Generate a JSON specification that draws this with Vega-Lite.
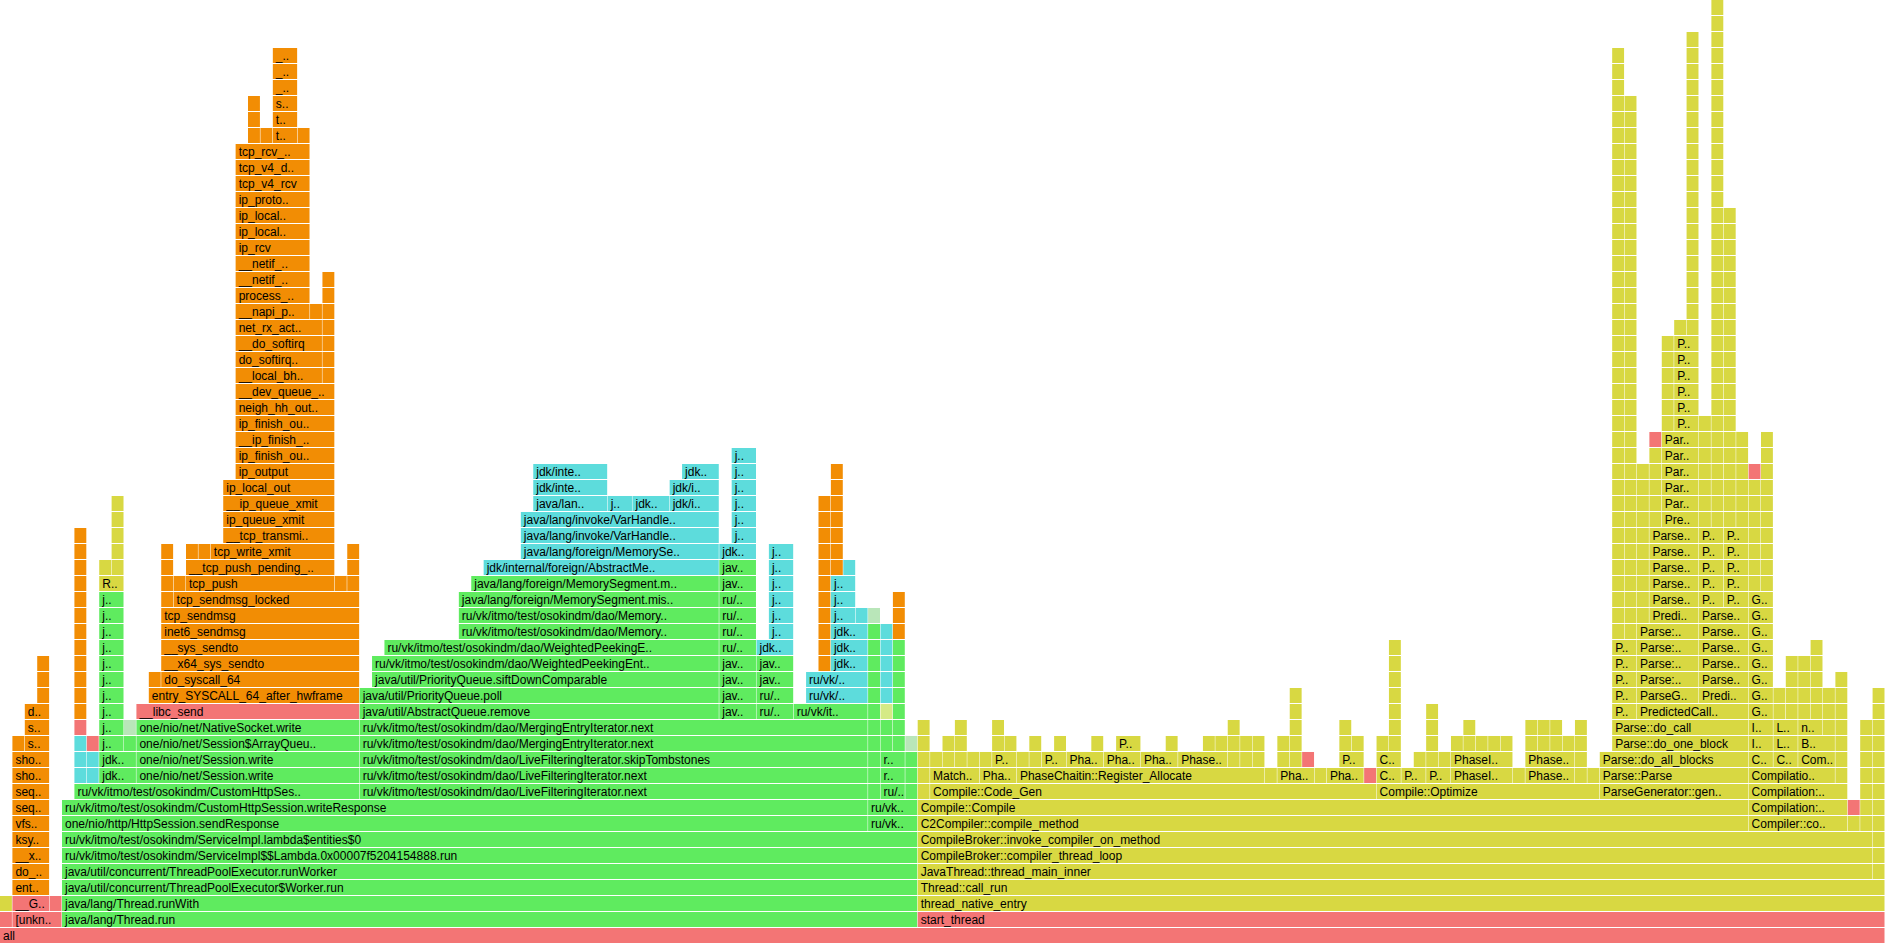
{
"$schema": "https://vega.github.io/schema/vega-lite/v6.json",
"width": 1885, "height": 943, "padding": 0,
"autosize": {"type": "none"},
"background": "white",
"config": {"view": {"stroke": null}},
"data": {"values": [
{"name":"all","start":0,"end":152,"depth":0,"type":"native"},
{"name":"","start":0,"end":1,"depth":1,"type":"native"},
{"name":"[unkn..","start":1,"end":5,"depth":1,"type":"native"},
{"name":"java/lang/Thread.run","start":5,"end":74,"depth":1,"type":"java"},
{"name":"start_thread","start":74,"end":152,"depth":1,"type":"native"},
{"name":"","start":0,"end":1,"depth":2,"type":"cpp"},
{"name":"__G..","start":1,"end":4,"depth":2,"type":"native"},
{"name":"","start":4,"end":5,"depth":2,"type":"native"},
{"name":"java/lang/Thread.runWith","start":5,"end":74,"depth":2,"type":"java"},
{"name":"thread_native_entry","start":74,"end":152,"depth":2,"type":"cpp"},
{"name":"ent..","start":1,"end":4,"depth":3,"type":"kernel"},
{"name":"java/util/concurrent/ThreadPoolExecutor$Worker.run","start":5,"end":74,"depth":3,"type":"java"},
{"name":"Thread::call_run","start":74,"end":152,"depth":3,"type":"cpp"},
{"name":"do_..","start":1,"end":4,"depth":4,"type":"kernel"},
{"name":"java/util/concurrent/ThreadPoolExecutor.runWorker","start":5,"end":74,"depth":4,"type":"java"},
{"name":"JavaThread::thread_main_inner","start":74,"end":151,"depth":4,"type":"cpp"},
{"name":"","start":151,"end":152,"depth":4,"type":"cpp"},
{"name":"__x..","start":1,"end":4,"depth":5,"type":"kernel"},
{"name":"ru/vk/itmo/test/osokindm/ServiceImpl$$Lambda.0x00007f5204154888.run","start":5,"end":74,"depth":5,"type":"java"},
{"name":"CompileBroker::compiler_thread_loop","start":74,"end":151,"depth":5,"type":"cpp"},
{"name":"","start":151,"end":152,"depth":5,"type":"cpp"},
{"name":"ksy..","start":1,"end":4,"depth":6,"type":"kernel"},
{"name":"ru/vk/itmo/test/osokindm/ServiceImpl.lambda$entities$0","start":5,"end":74,"depth":6,"type":"java"},
{"name":"CompileBroker::invoke_compiler_on_method","start":74,"end":151,"depth":6,"type":"cpp"},
{"name":"","start":151,"end":152,"depth":6,"type":"cpp"},
{"name":"vfs..","start":1,"end":4,"depth":7,"type":"kernel"},
{"name":"one/nio/http/HttpSession.sendResponse","start":5,"end":70,"depth":7,"type":"java"},
{"name":"ru/vk..","start":70,"end":74,"depth":7,"type":"java"},
{"name":"C2Compiler::compile_method","start":74,"end":141,"depth":7,"type":"cpp"},
{"name":"Compiler::co..","start":141,"end":149,"depth":7,"type":"cpp"},
{"name":"","start":149,"end":150,"depth":7,"type":"cpp"},
{"name":"","start":150,"end":151,"depth":7,"type":"cpp"},
{"name":"","start":151,"end":152,"depth":7,"type":"cpp"},
{"name":"seq..","start":1,"end":4,"depth":8,"type":"kernel"},
{"name":"ru/vk/itmo/test/osokindm/CustomHttpSession.writeResponse","start":5,"end":70,"depth":8,"type":"java"},
{"name":"ru/vk..","start":70,"end":74,"depth":8,"type":"java"},
{"name":"Compile::Compile","start":74,"end":141,"depth":8,"type":"cpp"},
{"name":"Compilation:..","start":141,"end":149,"depth":8,"type":"cpp"},
{"name":"","start":149,"end":150,"depth":8,"type":"native"},
{"name":"","start":150,"end":151,"depth":8,"type":"cpp"},
{"name":"","start":151,"end":152,"depth":8,"type":"cpp"},
{"name":"seq..","start":1,"end":4,"depth":9,"type":"kernel"},
{"name":"ru/vk/itmo/test/osokindm/CustomHttpSes..","start":6,"end":29,"depth":9,"type":"java"},
{"name":"ru/vk/itmo/test/osokindm/dao/LiveFilteringIterator.next","start":29,"end":70,"depth":9,"type":"java"},
{"name":"","start":70,"end":71,"depth":9,"type":"java"},
{"name":"ru/..","start":71,"end":73,"depth":9,"type":"java"},
{"name":"","start":73,"end":74,"depth":9,"type":"java"},
{"name":"","start":74,"end":75,"depth":9,"type":"cpp"},
{"name":"Compile::Code_Gen","start":75,"end":111,"depth":9,"type":"cpp"},
{"name":"Compile::Optimize","start":111,"end":129,"depth":9,"type":"cpp"},
{"name":"ParseGenerator::gen..","start":129,"end":141,"depth":9,"type":"cpp"},
{"name":"Compilation:..","start":141,"end":149,"depth":9,"type":"cpp"},
{"name":"","start":150,"end":151,"depth":9,"type":"cpp"},
{"name":"","start":151,"end":152,"depth":9,"type":"cpp"},
{"name":"sho..","start":1,"end":4,"depth":10,"type":"kernel"},
{"name":"","start":6,"end":7,"depth":10,"type":"inlined"},
{"name":"","start":7,"end":8,"depth":10,"type":"inlined"},
{"name":"jdk..","start":8,"end":11,"depth":10,"type":"java"},
{"name":"one/nio/net/Session.write","start":11,"end":29,"depth":10,"type":"java"},
{"name":"ru/vk/itmo/test/osokindm/dao/LiveFilteringIterator.next","start":29,"end":70,"depth":10,"type":"java"},
{"name":"","start":70,"end":71,"depth":10,"type":"java"},
{"name":"r..","start":71,"end":73,"depth":10,"type":"java"},
{"name":"","start":73,"end":74,"depth":10,"type":"java"},
{"name":"","start":74,"end":75,"depth":10,"type":"cpp"},
{"name":"Match..","start":75,"end":79,"depth":10,"type":"cpp"},
{"name":"Pha..","start":79,"end":82,"depth":10,"type":"cpp"},
{"name":"PhaseChaitin::Register_Allocate","start":82,"end":102,"depth":10,"type":"cpp"},
{"name":"","start":102,"end":103,"depth":10,"type":"cpp"},
{"name":"Pha..","start":103,"end":106,"depth":10,"type":"cpp"},
{"name":"","start":106,"end":107,"depth":10,"type":"cpp"},
{"name":"Pha..","start":107,"end":110,"depth":10,"type":"cpp"},
{"name":"","start":110,"end":111,"depth":10,"type":"native"},
{"name":"C..","start":111,"end":113,"depth":10,"type":"cpp"},
{"name":"P..","start":113,"end":115,"depth":10,"type":"cpp"},
{"name":"P..","start":115,"end":117,"depth":10,"type":"cpp"},
{"name":"PhaseI..","start":117,"end":122,"depth":10,"type":"cpp"},
{"name":"","start":122,"end":123,"depth":10,"type":"cpp"},
{"name":"Phase..","start":123,"end":127,"depth":10,"type":"cpp"},
{"name":"","start":127,"end":128,"depth":10,"type":"cpp"},
{"name":"","start":128,"end":129,"depth":10,"type":"cpp"},
{"name":"Parse::Parse","start":129,"end":141,"depth":10,"type":"cpp"},
{"name":"Compilatio..","start":141,"end":148,"depth":10,"type":"cpp"},
{"name":"","start":148,"end":149,"depth":10,"type":"cpp"},
{"name":"","start":150,"end":151,"depth":10,"type":"cpp"},
{"name":"","start":151,"end":152,"depth":10,"type":"cpp"},
{"name":"sho..","start":1,"end":4,"depth":11,"type":"kernel"},
{"name":"","start":6,"end":7,"depth":11,"type":"inlined"},
{"name":"","start":7,"end":8,"depth":11,"type":"inlined"},
{"name":"jdk..","start":8,"end":11,"depth":11,"type":"java"},
{"name":"one/nio/net/Session.write","start":11,"end":29,"depth":11,"type":"java"},
{"name":"ru/vk/itmo/test/osokindm/dao/LiveFilteringIterator.skipTombstones","start":29,"end":70,"depth":11,"type":"java"},
{"name":"","start":70,"end":71,"depth":11,"type":"java"},
{"name":"r..","start":71,"end":73,"depth":11,"type":"java"},
{"name":"","start":73,"end":74,"depth":11,"type":"java"},
{"name":"","start":74,"end":75,"depth":11,"type":"cpp"},
{"name":"","start":75,"end":76,"depth":11,"type":"cpp"},
{"name":"","start":76,"end":77,"depth":11,"type":"cpp"},
{"name":"","start":77,"end":78,"depth":11,"type":"cpp"},
{"name":"","start":78,"end":79,"depth":11,"type":"cpp"},
{"name":"","start":79,"end":80,"depth":11,"type":"cpp"},
{"name":"P..","start":80,"end":82,"depth":11,"type":"cpp"},
{"name":"","start":82,"end":83,"depth":11,"type":"cpp"},
{"name":"","start":83,"end":84,"depth":11,"type":"cpp"},
{"name":"P..","start":84,"end":86,"depth":11,"type":"cpp"},
{"name":"Pha..","start":86,"end":89,"depth":11,"type":"cpp"},
{"name":"Pha..","start":89,"end":92,"depth":11,"type":"cpp"},
{"name":"Pha..","start":92,"end":95,"depth":11,"type":"cpp"},
{"name":"Phase..","start":95,"end":99,"depth":11,"type":"cpp"},
{"name":"","start":99,"end":100,"depth":11,"type":"cpp"},
{"name":"","start":100,"end":101,"depth":11,"type":"cpp"},
{"name":"","start":101,"end":102,"depth":11,"type":"cpp"},
{"name":"","start":103,"end":104,"depth":11,"type":"cpp"},
{"name":"","start":104,"end":105,"depth":11,"type":"cpp"},
{"name":"","start":105,"end":106,"depth":11,"type":"native"},
{"name":"P..","start":108,"end":110,"depth":11,"type":"cpp"},
{"name":"C..","start":111,"end":113,"depth":11,"type":"cpp"},
{"name":"","start":114,"end":115,"depth":11,"type":"cpp"},
{"name":"","start":115,"end":116,"depth":11,"type":"cpp"},
{"name":"","start":116,"end":117,"depth":11,"type":"cpp"},
{"name":"PhaseI..","start":117,"end":122,"depth":11,"type":"cpp"},
{"name":"Phase..","start":123,"end":127,"depth":11,"type":"cpp"},
{"name":"","start":127,"end":128,"depth":11,"type":"cpp"},
{"name":"Parse::do_all_blocks","start":129,"end":141,"depth":11,"type":"cpp"},
{"name":"C..","start":141,"end":143,"depth":11,"type":"cpp"},
{"name":"C..","start":143,"end":145,"depth":11,"type":"cpp"},
{"name":"Com..","start":145,"end":148,"depth":11,"type":"cpp"},
{"name":"","start":148,"end":149,"depth":11,"type":"cpp"},
{"name":"","start":150,"end":151,"depth":11,"type":"cpp"},
{"name":"","start":151,"end":152,"depth":11,"type":"cpp"},
{"name":"","start":1,"end":2,"depth":12,"type":"kernel"},
{"name":"s..","start":2,"end":4,"depth":12,"type":"kernel"},
{"name":"","start":6,"end":7,"depth":12,"type":"inlined"},
{"name":"","start":7,"end":8,"depth":12,"type":"native"},
{"name":"j..","start":8,"end":10,"depth":12,"type":"java"},
{"name":"","start":10,"end":11,"depth":12,"type":"java"},
{"name":"one/nio/net/Session$ArrayQueu..","start":11,"end":29,"depth":12,"type":"java"},
{"name":"ru/vk/itmo/test/osokindm/dao/MergingEntryIterator.next","start":29,"end":70,"depth":12,"type":"java"},
{"name":"","start":70,"end":71,"depth":12,"type":"java"},
{"name":"","start":71,"end":72,"depth":12,"type":"java"},
{"name":"","start":72,"end":73,"depth":12,"type":"java"},
{"name":"","start":73,"end":74,"depth":12,"type":"interpreted"},
{"name":"","start":74,"end":75,"depth":12,"type":"cpp"},
{"name":"","start":76,"end":77,"depth":12,"type":"cpp"},
{"name":"","start":77,"end":78,"depth":12,"type":"cpp"},
{"name":"","start":80,"end":81,"depth":12,"type":"cpp"},
{"name":"","start":81,"end":82,"depth":12,"type":"cpp"},
{"name":"","start":83,"end":84,"depth":12,"type":"cpp"},
{"name":"","start":85,"end":86,"depth":12,"type":"cpp"},
{"name":"","start":88,"end":89,"depth":12,"type":"cpp"},
{"name":"P..","start":90,"end":92,"depth":12,"type":"cpp"},
{"name":"","start":94,"end":95,"depth":12,"type":"cpp"},
{"name":"","start":97,"end":98,"depth":12,"type":"cpp"},
{"name":"","start":98,"end":99,"depth":12,"type":"cpp"},
{"name":"","start":99,"end":100,"depth":12,"type":"cpp"},
{"name":"","start":100,"end":101,"depth":12,"type":"cpp"},
{"name":"","start":101,"end":102,"depth":12,"type":"cpp"},
{"name":"","start":103,"end":104,"depth":12,"type":"cpp"},
{"name":"","start":104,"end":105,"depth":12,"type":"cpp"},
{"name":"","start":108,"end":109,"depth":12,"type":"cpp"},
{"name":"","start":109,"end":110,"depth":12,"type":"cpp"},
{"name":"","start":111,"end":112,"depth":12,"type":"cpp"},
{"name":"","start":112,"end":113,"depth":12,"type":"cpp"},
{"name":"","start":115,"end":116,"depth":12,"type":"cpp"},
{"name":"","start":117,"end":118,"depth":12,"type":"cpp"},
{"name":"","start":118,"end":119,"depth":12,"type":"cpp"},
{"name":"","start":119,"end":120,"depth":12,"type":"cpp"},
{"name":"","start":120,"end":121,"depth":12,"type":"cpp"},
{"name":"","start":121,"end":122,"depth":12,"type":"cpp"},
{"name":"","start":123,"end":124,"depth":12,"type":"cpp"},
{"name":"","start":124,"end":125,"depth":12,"type":"cpp"},
{"name":"","start":125,"end":126,"depth":12,"type":"cpp"},
{"name":"","start":126,"end":127,"depth":12,"type":"cpp"},
{"name":"","start":127,"end":128,"depth":12,"type":"cpp"},
{"name":"Parse::do_one_block","start":130,"end":141,"depth":12,"type":"cpp"},
{"name":"I..","start":141,"end":143,"depth":12,"type":"cpp"},
{"name":"L..","start":143,"end":145,"depth":12,"type":"cpp"},
{"name":"B..","start":145,"end":148,"depth":12,"type":"cpp"},
{"name":"","start":148,"end":149,"depth":12,"type":"cpp"},
{"name":"","start":150,"end":151,"depth":12,"type":"cpp"},
{"name":"","start":151,"end":152,"depth":12,"type":"cpp"},
{"name":"s..","start":2,"end":4,"depth":13,"type":"kernel"},
{"name":"","start":6,"end":7,"depth":13,"type":"native"},
{"name":"j..","start":8,"end":10,"depth":13,"type":"java"},
{"name":"","start":10,"end":11,"depth":13,"type":"interpreted"},
{"name":"one/nio/net/NativeSocket.write","start":11,"end":29,"depth":13,"type":"java"},
{"name":"ru/vk/itmo/test/osokindm/dao/MergingEntryIterator.next","start":29,"end":70,"depth":13,"type":"java"},
{"name":"","start":70,"end":71,"depth":13,"type":"java"},
{"name":"","start":71,"end":72,"depth":13,"type":"java"},
{"name":"","start":72,"end":73,"depth":13,"type":"java"},
{"name":"","start":74,"end":75,"depth":13,"type":"cpp"},
{"name":"","start":77,"end":78,"depth":13,"type":"cpp"},
{"name":"","start":80,"end":81,"depth":13,"type":"cpp"},
{"name":"","start":99,"end":100,"depth":13,"type":"cpp"},
{"name":"","start":104,"end":105,"depth":13,"type":"cpp"},
{"name":"","start":108,"end":109,"depth":13,"type":"cpp"},
{"name":"","start":112,"end":113,"depth":13,"type":"cpp"},
{"name":"","start":115,"end":116,"depth":13,"type":"cpp"},
{"name":"","start":118,"end":119,"depth":13,"type":"cpp"},
{"name":"","start":123,"end":124,"depth":13,"type":"cpp"},
{"name":"","start":124,"end":125,"depth":13,"type":"cpp"},
{"name":"","start":125,"end":126,"depth":13,"type":"cpp"},
{"name":"","start":127,"end":128,"depth":13,"type":"cpp"},
{"name":"Parse::do_call","start":130,"end":141,"depth":13,"type":"cpp"},
{"name":"I..","start":141,"end":143,"depth":13,"type":"cpp"},
{"name":"L..","start":143,"end":145,"depth":13,"type":"cpp"},
{"name":"n..","start":145,"end":147,"depth":13,"type":"cpp"},
{"name":"","start":147,"end":148,"depth":13,"type":"cpp"},
{"name":"","start":148,"end":149,"depth":13,"type":"cpp"},
{"name":"","start":150,"end":151,"depth":13,"type":"cpp"},
{"name":"","start":151,"end":152,"depth":13,"type":"cpp"},
{"name":"d..","start":2,"end":4,"depth":14,"type":"kernel"},
{"name":"","start":6,"end":7,"depth":14,"type":"kernel"},
{"name":"j..","start":8,"end":10,"depth":14,"type":"java"},
{"name":"__libc_send","start":11,"end":29,"depth":14,"type":"native"},
{"name":"java/util/AbstractQueue.remove","start":29,"end":58,"depth":14,"type":"java"},
{"name":"jav..","start":58,"end":61,"depth":14,"type":"java"},
{"name":"ru/..","start":61,"end":64,"depth":14,"type":"java"},
{"name":"ru/vk/it..","start":64,"end":70,"depth":14,"type":"java"},
{"name":"","start":70,"end":71,"depth":14,"type":"java"},
{"name":"","start":71,"end":72,"depth":14,"type":"c1"},
{"name":"","start":72,"end":73,"depth":14,"type":"java"},
{"name":"","start":104,"end":105,"depth":14,"type":"cpp"},
{"name":"","start":112,"end":113,"depth":14,"type":"cpp"},
{"name":"","start":115,"end":116,"depth":14,"type":"cpp"},
{"name":"P..","start":130,"end":132,"depth":14,"type":"cpp"},
{"name":"PredictedCall..","start":132,"end":141,"depth":14,"type":"cpp"},
{"name":"G..","start":141,"end":143,"depth":14,"type":"cpp"},
{"name":"","start":143,"end":144,"depth":14,"type":"cpp"},
{"name":"","start":144,"end":145,"depth":14,"type":"cpp"},
{"name":"","start":145,"end":146,"depth":14,"type":"cpp"},
{"name":"","start":146,"end":147,"depth":14,"type":"cpp"},
{"name":"","start":147,"end":148,"depth":14,"type":"cpp"},
{"name":"","start":148,"end":149,"depth":14,"type":"cpp"},
{"name":"","start":151,"end":152,"depth":14,"type":"cpp"},
{"name":"","start":3,"end":4,"depth":15,"type":"kernel"},
{"name":"","start":6,"end":7,"depth":15,"type":"kernel"},
{"name":"j..","start":8,"end":10,"depth":15,"type":"java"},
{"name":"entry_SYSCALL_64_after_hwframe","start":12,"end":29,"depth":15,"type":"kernel"},
{"name":"java/util/PriorityQueue.poll","start":29,"end":58,"depth":15,"type":"java"},
{"name":"jav..","start":58,"end":61,"depth":15,"type":"java"},
{"name":"ru/..","start":61,"end":64,"depth":15,"type":"java"},
{"name":"ru/vk/..","start":65,"end":70,"depth":15,"type":"inlined"},
{"name":"","start":70,"end":71,"depth":15,"type":"java"},
{"name":"","start":71,"end":72,"depth":15,"type":"inlined"},
{"name":"","start":72,"end":73,"depth":15,"type":"java"},
{"name":"","start":104,"end":105,"depth":15,"type":"cpp"},
{"name":"","start":112,"end":113,"depth":15,"type":"cpp"},
{"name":"P..","start":130,"end":132,"depth":15,"type":"cpp"},
{"name":"ParseG..","start":132,"end":137,"depth":15,"type":"cpp"},
{"name":"Predi..","start":137,"end":141,"depth":15,"type":"cpp"},
{"name":"G..","start":141,"end":143,"depth":15,"type":"cpp"},
{"name":"","start":143,"end":144,"depth":15,"type":"cpp"},
{"name":"","start":144,"end":145,"depth":15,"type":"cpp"},
{"name":"","start":145,"end":146,"depth":15,"type":"cpp"},
{"name":"","start":146,"end":147,"depth":15,"type":"cpp"},
{"name":"","start":147,"end":148,"depth":15,"type":"cpp"},
{"name":"","start":148,"end":149,"depth":15,"type":"cpp"},
{"name":"","start":151,"end":152,"depth":15,"type":"cpp"},
{"name":"","start":3,"end":4,"depth":16,"type":"kernel"},
{"name":"","start":6,"end":7,"depth":16,"type":"kernel"},
{"name":"j..","start":8,"end":10,"depth":16,"type":"java"},
{"name":"","start":12,"end":13,"depth":16,"type":"kernel"},
{"name":"do_syscall_64","start":13,"end":29,"depth":16,"type":"kernel"},
{"name":"java/util/PriorityQueue.siftDownComparable","start":30,"end":58,"depth":16,"type":"java"},
{"name":"jav..","start":58,"end":61,"depth":16,"type":"java"},
{"name":"jav..","start":61,"end":64,"depth":16,"type":"java"},
{"name":"ru/vk/..","start":65,"end":70,"depth":16,"type":"inlined"},
{"name":"","start":70,"end":71,"depth":16,"type":"java"},
{"name":"","start":71,"end":72,"depth":16,"type":"inlined"},
{"name":"","start":72,"end":73,"depth":16,"type":"java"},
{"name":"","start":112,"end":113,"depth":16,"type":"cpp"},
{"name":"P..","start":130,"end":132,"depth":16,"type":"cpp"},
{"name":"Parse:..","start":132,"end":137,"depth":16,"type":"cpp"},
{"name":"Parse..","start":137,"end":141,"depth":16,"type":"cpp"},
{"name":"G..","start":141,"end":143,"depth":16,"type":"cpp"},
{"name":"","start":144,"end":145,"depth":16,"type":"cpp"},
{"name":"","start":145,"end":146,"depth":16,"type":"cpp"},
{"name":"","start":146,"end":147,"depth":16,"type":"cpp"},
{"name":"","start":148,"end":149,"depth":16,"type":"cpp"},
{"name":"","start":3,"end":4,"depth":17,"type":"kernel"},
{"name":"","start":6,"end":7,"depth":17,"type":"kernel"},
{"name":"j..","start":8,"end":10,"depth":17,"type":"java"},
{"name":"__x64_sys_sendto","start":13,"end":29,"depth":17,"type":"kernel"},
{"name":"ru/vk/itmo/test/osokindm/dao/WeightedPeekingEnt..","start":30,"end":58,"depth":17,"type":"java"},
{"name":"jav..","start":58,"end":61,"depth":17,"type":"java"},
{"name":"jav..","start":61,"end":64,"depth":17,"type":"java"},
{"name":"","start":66,"end":67,"depth":17,"type":"kernel"},
{"name":"jdk..","start":67,"end":70,"depth":17,"type":"inlined"},
{"name":"","start":70,"end":71,"depth":17,"type":"java"},
{"name":"","start":71,"end":72,"depth":17,"type":"inlined"},
{"name":"","start":72,"end":73,"depth":17,"type":"java"},
{"name":"","start":112,"end":113,"depth":17,"type":"cpp"},
{"name":"P..","start":130,"end":132,"depth":17,"type":"cpp"},
{"name":"Parse:..","start":132,"end":137,"depth":17,"type":"cpp"},
{"name":"Parse..","start":137,"end":141,"depth":17,"type":"cpp"},
{"name":"G..","start":141,"end":143,"depth":17,"type":"cpp"},
{"name":"","start":144,"end":145,"depth":17,"type":"cpp"},
{"name":"","start":145,"end":146,"depth":17,"type":"cpp"},
{"name":"","start":146,"end":147,"depth":17,"type":"cpp"},
{"name":"","start":6,"end":7,"depth":18,"type":"kernel"},
{"name":"j..","start":8,"end":10,"depth":18,"type":"java"},
{"name":"__sys_sendto","start":13,"end":29,"depth":18,"type":"kernel"},
{"name":"ru/vk/itmo/test/osokindm/dao/WeightedPeekingE..","start":31,"end":58,"depth":18,"type":"java"},
{"name":"ru/..","start":58,"end":61,"depth":18,"type":"java"},
{"name":"jdk..","start":61,"end":64,"depth":18,"type":"inlined"},
{"name":"","start":66,"end":67,"depth":18,"type":"kernel"},
{"name":"jdk..","start":67,"end":70,"depth":18,"type":"inlined"},
{"name":"","start":70,"end":71,"depth":18,"type":"java"},
{"name":"","start":71,"end":72,"depth":18,"type":"inlined"},
{"name":"","start":72,"end":73,"depth":18,"type":"java"},
{"name":"","start":112,"end":113,"depth":18,"type":"cpp"},
{"name":"P..","start":130,"end":132,"depth":18,"type":"cpp"},
{"name":"Parse:..","start":132,"end":137,"depth":18,"type":"cpp"},
{"name":"Parse..","start":137,"end":141,"depth":18,"type":"cpp"},
{"name":"G..","start":141,"end":143,"depth":18,"type":"cpp"},
{"name":"","start":146,"end":147,"depth":18,"type":"cpp"},
{"name":"","start":6,"end":7,"depth":19,"type":"kernel"},
{"name":"j..","start":8,"end":10,"depth":19,"type":"java"},
{"name":"inet6_sendmsg","start":13,"end":29,"depth":19,"type":"kernel"},
{"name":"ru/vk/itmo/test/osokindm/dao/Memory..","start":37,"end":58,"depth":19,"type":"java"},
{"name":"ru/..","start":58,"end":61,"depth":19,"type":"java"},
{"name":"j..","start":62,"end":64,"depth":19,"type":"inlined"},
{"name":"","start":66,"end":67,"depth":19,"type":"kernel"},
{"name":"jdk..","start":67,"end":70,"depth":19,"type":"inlined"},
{"name":"","start":70,"end":71,"depth":19,"type":"java"},
{"name":"","start":71,"end":72,"depth":19,"type":"inlined"},
{"name":"","start":72,"end":73,"depth":19,"type":"kernel"},
{"name":"","start":130,"end":131,"depth":19,"type":"cpp"},
{"name":"","start":131,"end":132,"depth":19,"type":"cpp"},
{"name":"Parse:..","start":132,"end":137,"depth":19,"type":"cpp"},
{"name":"Parse..","start":137,"end":141,"depth":19,"type":"cpp"},
{"name":"G..","start":141,"end":143,"depth":19,"type":"cpp"},
{"name":"","start":6,"end":7,"depth":20,"type":"kernel"},
{"name":"j..","start":8,"end":10,"depth":20,"type":"java"},
{"name":"tcp_sendmsg","start":13,"end":29,"depth":20,"type":"kernel"},
{"name":"ru/vk/itmo/test/osokindm/dao/Memory..","start":37,"end":58,"depth":20,"type":"java"},
{"name":"ru/..","start":58,"end":61,"depth":20,"type":"java"},
{"name":"j..","start":62,"end":64,"depth":20,"type":"inlined"},
{"name":"","start":66,"end":67,"depth":20,"type":"kernel"},
{"name":"j..","start":67,"end":69,"depth":20,"type":"inlined"},
{"name":"","start":69,"end":70,"depth":20,"type":"inlined"},
{"name":"","start":70,"end":71,"depth":20,"type":"interpreted"},
{"name":"","start":72,"end":73,"depth":20,"type":"kernel"},
{"name":"","start":130,"end":131,"depth":20,"type":"cpp"},
{"name":"","start":131,"end":132,"depth":20,"type":"cpp"},
{"name":"","start":132,"end":133,"depth":20,"type":"cpp"},
{"name":"Predi..","start":133,"end":137,"depth":20,"type":"cpp"},
{"name":"Parse..","start":137,"end":141,"depth":20,"type":"cpp"},
{"name":"G..","start":141,"end":143,"depth":20,"type":"cpp"},
{"name":"","start":6,"end":7,"depth":21,"type":"kernel"},
{"name":"j..","start":8,"end":10,"depth":21,"type":"java"},
{"name":"","start":13,"end":14,"depth":21,"type":"kernel"},
{"name":"tcp_sendmsg_locked","start":14,"end":29,"depth":21,"type":"kernel"},
{"name":"java/lang/foreign/MemorySegment.mis..","start":37,"end":58,"depth":21,"type":"java"},
{"name":"ru/..","start":58,"end":61,"depth":21,"type":"java"},
{"name":"j..","start":62,"end":64,"depth":21,"type":"inlined"},
{"name":"","start":66,"end":67,"depth":21,"type":"kernel"},
{"name":"j..","start":67,"end":69,"depth":21,"type":"inlined"},
{"name":"","start":72,"end":73,"depth":21,"type":"kernel"},
{"name":"","start":130,"end":131,"depth":21,"type":"cpp"},
{"name":"","start":131,"end":132,"depth":21,"type":"cpp"},
{"name":"","start":132,"end":133,"depth":21,"type":"cpp"},
{"name":"Parse..","start":133,"end":137,"depth":21,"type":"cpp"},
{"name":"P..","start":137,"end":139,"depth":21,"type":"cpp"},
{"name":"P..","start":139,"end":141,"depth":21,"type":"cpp"},
{"name":"G..","start":141,"end":143,"depth":21,"type":"cpp"},
{"name":"","start":6,"end":7,"depth":22,"type":"kernel"},
{"name":"R..","start":8,"end":10,"depth":22,"type":"cpp"},
{"name":"","start":13,"end":14,"depth":22,"type":"kernel"},
{"name":"","start":14,"end":15,"depth":22,"type":"kernel"},
{"name":"tcp_push","start":15,"end":27,"depth":22,"type":"kernel"},
{"name":"","start":27,"end":28,"depth":22,"type":"kernel"},
{"name":"","start":28,"end":29,"depth":22,"type":"kernel"},
{"name":"java/lang/foreign/MemorySegment.m..","start":38,"end":58,"depth":22,"type":"java"},
{"name":"jav..","start":58,"end":61,"depth":22,"type":"java"},
{"name":"j..","start":62,"end":64,"depth":22,"type":"inlined"},
{"name":"","start":66,"end":67,"depth":22,"type":"kernel"},
{"name":"j..","start":67,"end":69,"depth":22,"type":"inlined"},
{"name":"","start":130,"end":131,"depth":22,"type":"cpp"},
{"name":"","start":131,"end":132,"depth":22,"type":"cpp"},
{"name":"","start":132,"end":133,"depth":22,"type":"cpp"},
{"name":"Parse..","start":133,"end":137,"depth":22,"type":"cpp"},
{"name":"P..","start":137,"end":139,"depth":22,"type":"cpp"},
{"name":"P..","start":139,"end":141,"depth":22,"type":"cpp"},
{"name":"","start":141,"end":142,"depth":22,"type":"cpp"},
{"name":"","start":142,"end":143,"depth":22,"type":"cpp"},
{"name":"","start":6,"end":7,"depth":23,"type":"kernel"},
{"name":"","start":8,"end":9,"depth":23,"type":"cpp"},
{"name":"","start":9,"end":10,"depth":23,"type":"cpp"},
{"name":"","start":13,"end":14,"depth":23,"type":"kernel"},
{"name":"__tcp_push_pending_..","start":15,"end":27,"depth":23,"type":"kernel"},
{"name":"","start":28,"end":29,"depth":23,"type":"kernel"},
{"name":"jdk/internal/foreign/AbstractMe..","start":39,"end":58,"depth":23,"type":"inlined"},
{"name":"jav..","start":58,"end":61,"depth":23,"type":"java"},
{"name":"j..","start":62,"end":64,"depth":23,"type":"inlined"},
{"name":"","start":66,"end":67,"depth":23,"type":"kernel"},
{"name":"","start":67,"end":68,"depth":23,"type":"kernel"},
{"name":"","start":68,"end":69,"depth":23,"type":"inlined"},
{"name":"","start":130,"end":131,"depth":23,"type":"cpp"},
{"name":"","start":131,"end":132,"depth":23,"type":"cpp"},
{"name":"","start":132,"end":133,"depth":23,"type":"cpp"},
{"name":"Parse..","start":133,"end":137,"depth":23,"type":"cpp"},
{"name":"P..","start":137,"end":139,"depth":23,"type":"cpp"},
{"name":"P..","start":139,"end":141,"depth":23,"type":"cpp"},
{"name":"","start":141,"end":142,"depth":23,"type":"cpp"},
{"name":"","start":142,"end":143,"depth":23,"type":"cpp"},
{"name":"","start":6,"end":7,"depth":24,"type":"kernel"},
{"name":"","start":9,"end":10,"depth":24,"type":"cpp"},
{"name":"","start":13,"end":14,"depth":24,"type":"kernel"},
{"name":"","start":15,"end":16,"depth":24,"type":"kernel"},
{"name":"","start":16,"end":17,"depth":24,"type":"kernel"},
{"name":"tcp_write_xmit","start":17,"end":27,"depth":24,"type":"kernel"},
{"name":"","start":28,"end":29,"depth":24,"type":"kernel"},
{"name":"java/lang/foreign/MemorySe..","start":42,"end":58,"depth":24,"type":"inlined"},
{"name":"jdk..","start":58,"end":61,"depth":24,"type":"inlined"},
{"name":"j..","start":62,"end":64,"depth":24,"type":"inlined"},
{"name":"","start":66,"end":67,"depth":24,"type":"kernel"},
{"name":"","start":67,"end":68,"depth":24,"type":"kernel"},
{"name":"","start":130,"end":131,"depth":24,"type":"cpp"},
{"name":"","start":131,"end":132,"depth":24,"type":"cpp"},
{"name":"","start":132,"end":133,"depth":24,"type":"cpp"},
{"name":"Parse..","start":133,"end":137,"depth":24,"type":"cpp"},
{"name":"P..","start":137,"end":139,"depth":24,"type":"cpp"},
{"name":"P..","start":139,"end":141,"depth":24,"type":"cpp"},
{"name":"","start":141,"end":142,"depth":24,"type":"cpp"},
{"name":"","start":142,"end":143,"depth":24,"type":"cpp"},
{"name":"","start":6,"end":7,"depth":25,"type":"kernel"},
{"name":"","start":9,"end":10,"depth":25,"type":"cpp"},
{"name":"__tcp_transmi..","start":18,"end":27,"depth":25,"type":"kernel"},
{"name":"java/lang/invoke/VarHandle..","start":42,"end":58,"depth":25,"type":"inlined"},
{"name":"j..","start":59,"end":61,"depth":25,"type":"inlined"},
{"name":"","start":66,"end":67,"depth":25,"type":"kernel"},
{"name":"","start":67,"end":68,"depth":25,"type":"kernel"},
{"name":"","start":130,"end":131,"depth":25,"type":"cpp"},
{"name":"","start":131,"end":132,"depth":25,"type":"cpp"},
{"name":"","start":132,"end":133,"depth":25,"type":"cpp"},
{"name":"Parse..","start":133,"end":137,"depth":25,"type":"cpp"},
{"name":"P..","start":137,"end":139,"depth":25,"type":"cpp"},
{"name":"P..","start":139,"end":141,"depth":25,"type":"cpp"},
{"name":"","start":141,"end":142,"depth":25,"type":"cpp"},
{"name":"","start":142,"end":143,"depth":25,"type":"cpp"},
{"name":"","start":9,"end":10,"depth":26,"type":"cpp"},
{"name":"ip_queue_xmit","start":18,"end":27,"depth":26,"type":"kernel"},
{"name":"java/lang/invoke/VarHandle..","start":42,"end":58,"depth":26,"type":"inlined"},
{"name":"j..","start":59,"end":61,"depth":26,"type":"inlined"},
{"name":"","start":66,"end":67,"depth":26,"type":"kernel"},
{"name":"","start":67,"end":68,"depth":26,"type":"kernel"},
{"name":"","start":130,"end":131,"depth":26,"type":"cpp"},
{"name":"","start":131,"end":132,"depth":26,"type":"cpp"},
{"name":"","start":132,"end":133,"depth":26,"type":"cpp"},
{"name":"","start":133,"end":134,"depth":26,"type":"cpp"},
{"name":"Pre..","start":134,"end":137,"depth":26,"type":"cpp"},
{"name":"","start":137,"end":138,"depth":26,"type":"cpp"},
{"name":"","start":138,"end":139,"depth":26,"type":"cpp"},
{"name":"","start":139,"end":140,"depth":26,"type":"cpp"},
{"name":"","start":140,"end":141,"depth":26,"type":"cpp"},
{"name":"","start":141,"end":142,"depth":26,"type":"cpp"},
{"name":"","start":142,"end":143,"depth":26,"type":"cpp"},
{"name":"","start":9,"end":10,"depth":27,"type":"cpp"},
{"name":"__ip_queue_xmit","start":18,"end":27,"depth":27,"type":"kernel"},
{"name":"java/lan..","start":43,"end":49,"depth":27,"type":"inlined"},
{"name":"j..","start":49,"end":51,"depth":27,"type":"inlined"},
{"name":"jdk..","start":51,"end":54,"depth":27,"type":"inlined"},
{"name":"jdk/i..","start":54,"end":58,"depth":27,"type":"inlined"},
{"name":"j..","start":59,"end":61,"depth":27,"type":"inlined"},
{"name":"","start":66,"end":67,"depth":27,"type":"kernel"},
{"name":"","start":67,"end":68,"depth":27,"type":"kernel"},
{"name":"","start":130,"end":131,"depth":27,"type":"cpp"},
{"name":"","start":131,"end":132,"depth":27,"type":"cpp"},
{"name":"","start":132,"end":133,"depth":27,"type":"cpp"},
{"name":"","start":133,"end":134,"depth":27,"type":"cpp"},
{"name":"Par..","start":134,"end":137,"depth":27,"type":"cpp"},
{"name":"","start":137,"end":138,"depth":27,"type":"cpp"},
{"name":"","start":138,"end":139,"depth":27,"type":"cpp"},
{"name":"","start":139,"end":140,"depth":27,"type":"cpp"},
{"name":"","start":140,"end":141,"depth":27,"type":"cpp"},
{"name":"","start":141,"end":142,"depth":27,"type":"cpp"},
{"name":"","start":142,"end":143,"depth":27,"type":"cpp"},
{"name":"ip_local_out","start":18,"end":27,"depth":28,"type":"kernel"},
{"name":"jdk/inte..","start":43,"end":49,"depth":28,"type":"inlined"},
{"name":"jdk/i..","start":54,"end":58,"depth":28,"type":"inlined"},
{"name":"j..","start":59,"end":61,"depth":28,"type":"inlined"},
{"name":"","start":67,"end":68,"depth":28,"type":"kernel"},
{"name":"","start":130,"end":131,"depth":28,"type":"cpp"},
{"name":"","start":131,"end":132,"depth":28,"type":"cpp"},
{"name":"","start":132,"end":133,"depth":28,"type":"cpp"},
{"name":"","start":133,"end":134,"depth":28,"type":"cpp"},
{"name":"Par..","start":134,"end":137,"depth":28,"type":"cpp"},
{"name":"","start":137,"end":138,"depth":28,"type":"cpp"},
{"name":"","start":138,"end":139,"depth":28,"type":"cpp"},
{"name":"","start":139,"end":140,"depth":28,"type":"cpp"},
{"name":"","start":140,"end":141,"depth":28,"type":"cpp"},
{"name":"","start":141,"end":142,"depth":28,"type":"cpp"},
{"name":"","start":142,"end":143,"depth":28,"type":"cpp"},
{"name":"ip_output","start":19,"end":27,"depth":29,"type":"kernel"},
{"name":"jdk/inte..","start":43,"end":49,"depth":29,"type":"inlined"},
{"name":"jdk..","start":55,"end":58,"depth":29,"type":"inlined"},
{"name":"j..","start":59,"end":61,"depth":29,"type":"inlined"},
{"name":"","start":67,"end":68,"depth":29,"type":"kernel"},
{"name":"","start":130,"end":131,"depth":29,"type":"cpp"},
{"name":"","start":131,"end":132,"depth":29,"type":"cpp"},
{"name":"","start":132,"end":133,"depth":29,"type":"cpp"},
{"name":"","start":133,"end":134,"depth":29,"type":"cpp"},
{"name":"Par..","start":134,"end":137,"depth":29,"type":"cpp"},
{"name":"","start":137,"end":138,"depth":29,"type":"cpp"},
{"name":"","start":138,"end":139,"depth":29,"type":"cpp"},
{"name":"","start":139,"end":140,"depth":29,"type":"cpp"},
{"name":"","start":140,"end":141,"depth":29,"type":"cpp"},
{"name":"","start":141,"end":142,"depth":29,"type":"native"},
{"name":"","start":142,"end":143,"depth":29,"type":"cpp"},
{"name":"ip_finish_ou..","start":19,"end":27,"depth":30,"type":"kernel"},
{"name":"j..","start":59,"end":61,"depth":30,"type":"inlined"},
{"name":"","start":130,"end":131,"depth":30,"type":"cpp"},
{"name":"","start":131,"end":132,"depth":30,"type":"cpp"},
{"name":"","start":133,"end":134,"depth":30,"type":"cpp"},
{"name":"Par..","start":134,"end":137,"depth":30,"type":"cpp"},
{"name":"","start":137,"end":138,"depth":30,"type":"cpp"},
{"name":"","start":138,"end":139,"depth":30,"type":"cpp"},
{"name":"","start":139,"end":140,"depth":30,"type":"cpp"},
{"name":"","start":140,"end":141,"depth":30,"type":"cpp"},
{"name":"","start":142,"end":143,"depth":30,"type":"cpp"},
{"name":"__ip_finish_..","start":19,"end":27,"depth":31,"type":"kernel"},
{"name":"","start":130,"end":131,"depth":31,"type":"cpp"},
{"name":"","start":131,"end":132,"depth":31,"type":"cpp"},
{"name":"","start":133,"end":134,"depth":31,"type":"native"},
{"name":"Par..","start":134,"end":137,"depth":31,"type":"cpp"},
{"name":"","start":137,"end":138,"depth":31,"type":"cpp"},
{"name":"","start":138,"end":139,"depth":31,"type":"cpp"},
{"name":"","start":139,"end":140,"depth":31,"type":"cpp"},
{"name":"","start":140,"end":141,"depth":31,"type":"cpp"},
{"name":"","start":142,"end":143,"depth":31,"type":"cpp"},
{"name":"ip_finish_ou..","start":19,"end":27,"depth":32,"type":"kernel"},
{"name":"","start":130,"end":131,"depth":32,"type":"cpp"},
{"name":"","start":131,"end":132,"depth":32,"type":"cpp"},
{"name":"","start":134,"end":135,"depth":32,"type":"cpp"},
{"name":"P..","start":135,"end":137,"depth":32,"type":"cpp"},
{"name":"","start":137,"end":138,"depth":32,"type":"cpp"},
{"name":"","start":138,"end":139,"depth":32,"type":"cpp"},
{"name":"","start":139,"end":140,"depth":32,"type":"cpp"},
{"name":"neigh_hh_out..","start":19,"end":27,"depth":33,"type":"kernel"},
{"name":"","start":130,"end":131,"depth":33,"type":"cpp"},
{"name":"","start":131,"end":132,"depth":33,"type":"cpp"},
{"name":"","start":134,"end":135,"depth":33,"type":"cpp"},
{"name":"P..","start":135,"end":137,"depth":33,"type":"cpp"},
{"name":"","start":138,"end":139,"depth":33,"type":"cpp"},
{"name":"","start":139,"end":140,"depth":33,"type":"cpp"},
{"name":"__dev_queue_..","start":19,"end":27,"depth":34,"type":"kernel"},
{"name":"","start":130,"end":131,"depth":34,"type":"cpp"},
{"name":"","start":131,"end":132,"depth":34,"type":"cpp"},
{"name":"","start":134,"end":135,"depth":34,"type":"cpp"},
{"name":"P..","start":135,"end":137,"depth":34,"type":"cpp"},
{"name":"","start":138,"end":139,"depth":34,"type":"cpp"},
{"name":"","start":139,"end":140,"depth":34,"type":"cpp"},
{"name":"__local_bh..","start":19,"end":26,"depth":35,"type":"kernel"},
{"name":"","start":26,"end":27,"depth":35,"type":"kernel"},
{"name":"","start":130,"end":131,"depth":35,"type":"cpp"},
{"name":"","start":131,"end":132,"depth":35,"type":"cpp"},
{"name":"","start":134,"end":135,"depth":35,"type":"cpp"},
{"name":"P..","start":135,"end":137,"depth":35,"type":"cpp"},
{"name":"","start":138,"end":139,"depth":35,"type":"cpp"},
{"name":"","start":139,"end":140,"depth":35,"type":"cpp"},
{"name":"do_softirq..","start":19,"end":26,"depth":36,"type":"kernel"},
{"name":"","start":26,"end":27,"depth":36,"type":"kernel"},
{"name":"","start":130,"end":131,"depth":36,"type":"cpp"},
{"name":"","start":131,"end":132,"depth":36,"type":"cpp"},
{"name":"","start":134,"end":135,"depth":36,"type":"cpp"},
{"name":"P..","start":135,"end":137,"depth":36,"type":"cpp"},
{"name":"","start":138,"end":139,"depth":36,"type":"cpp"},
{"name":"","start":139,"end":140,"depth":36,"type":"cpp"},
{"name":"__do_softirq","start":19,"end":26,"depth":37,"type":"kernel"},
{"name":"","start":26,"end":27,"depth":37,"type":"kernel"},
{"name":"","start":130,"end":131,"depth":37,"type":"cpp"},
{"name":"","start":131,"end":132,"depth":37,"type":"cpp"},
{"name":"","start":134,"end":135,"depth":37,"type":"cpp"},
{"name":"P..","start":135,"end":137,"depth":37,"type":"cpp"},
{"name":"","start":138,"end":139,"depth":37,"type":"cpp"},
{"name":"","start":139,"end":140,"depth":37,"type":"cpp"},
{"name":"net_rx_act..","start":19,"end":26,"depth":38,"type":"kernel"},
{"name":"","start":26,"end":27,"depth":38,"type":"kernel"},
{"name":"","start":130,"end":131,"depth":38,"type":"cpp"},
{"name":"","start":131,"end":132,"depth":38,"type":"cpp"},
{"name":"","start":135,"end":136,"depth":38,"type":"cpp"},
{"name":"","start":136,"end":137,"depth":38,"type":"cpp"},
{"name":"","start":138,"end":139,"depth":38,"type":"cpp"},
{"name":"","start":139,"end":140,"depth":38,"type":"cpp"},
{"name":"__napi_p..","start":19,"end":25,"depth":39,"type":"kernel"},
{"name":"","start":25,"end":26,"depth":39,"type":"kernel"},
{"name":"","start":26,"end":27,"depth":39,"type":"kernel"},
{"name":"","start":130,"end":131,"depth":39,"type":"cpp"},
{"name":"","start":131,"end":132,"depth":39,"type":"cpp"},
{"name":"","start":136,"end":137,"depth":39,"type":"cpp"},
{"name":"","start":138,"end":139,"depth":39,"type":"cpp"},
{"name":"","start":139,"end":140,"depth":39,"type":"cpp"},
{"name":"process_..","start":19,"end":25,"depth":40,"type":"kernel"},
{"name":"","start":26,"end":27,"depth":40,"type":"kernel"},
{"name":"","start":130,"end":131,"depth":40,"type":"cpp"},
{"name":"","start":131,"end":132,"depth":40,"type":"cpp"},
{"name":"","start":136,"end":137,"depth":40,"type":"cpp"},
{"name":"","start":138,"end":139,"depth":40,"type":"cpp"},
{"name":"","start":139,"end":140,"depth":40,"type":"cpp"},
{"name":"__netif_..","start":19,"end":25,"depth":41,"type":"kernel"},
{"name":"","start":26,"end":27,"depth":41,"type":"kernel"},
{"name":"","start":130,"end":131,"depth":41,"type":"cpp"},
{"name":"","start":131,"end":132,"depth":41,"type":"cpp"},
{"name":"","start":136,"end":137,"depth":41,"type":"cpp"},
{"name":"","start":138,"end":139,"depth":41,"type":"cpp"},
{"name":"","start":139,"end":140,"depth":41,"type":"cpp"},
{"name":"__netif_..","start":19,"end":25,"depth":42,"type":"kernel"},
{"name":"","start":130,"end":131,"depth":42,"type":"cpp"},
{"name":"","start":131,"end":132,"depth":42,"type":"cpp"},
{"name":"","start":136,"end":137,"depth":42,"type":"cpp"},
{"name":"","start":138,"end":139,"depth":42,"type":"cpp"},
{"name":"","start":139,"end":140,"depth":42,"type":"cpp"},
{"name":"ip_rcv","start":19,"end":25,"depth":43,"type":"kernel"},
{"name":"","start":130,"end":131,"depth":43,"type":"cpp"},
{"name":"","start":131,"end":132,"depth":43,"type":"cpp"},
{"name":"","start":136,"end":137,"depth":43,"type":"cpp"},
{"name":"","start":138,"end":139,"depth":43,"type":"cpp"},
{"name":"","start":139,"end":140,"depth":43,"type":"cpp"},
{"name":"ip_local..","start":19,"end":25,"depth":44,"type":"kernel"},
{"name":"","start":130,"end":131,"depth":44,"type":"cpp"},
{"name":"","start":131,"end":132,"depth":44,"type":"cpp"},
{"name":"","start":136,"end":137,"depth":44,"type":"cpp"},
{"name":"","start":138,"end":139,"depth":44,"type":"cpp"},
{"name":"","start":139,"end":140,"depth":44,"type":"cpp"},
{"name":"ip_local..","start":19,"end":25,"depth":45,"type":"kernel"},
{"name":"","start":130,"end":131,"depth":45,"type":"cpp"},
{"name":"","start":131,"end":132,"depth":45,"type":"cpp"},
{"name":"","start":136,"end":137,"depth":45,"type":"cpp"},
{"name":"","start":138,"end":139,"depth":45,"type":"cpp"},
{"name":"","start":139,"end":140,"depth":45,"type":"cpp"},
{"name":"ip_proto..","start":19,"end":25,"depth":46,"type":"kernel"},
{"name":"","start":130,"end":131,"depth":46,"type":"cpp"},
{"name":"","start":131,"end":132,"depth":46,"type":"cpp"},
{"name":"","start":136,"end":137,"depth":46,"type":"cpp"},
{"name":"","start":138,"end":139,"depth":46,"type":"cpp"},
{"name":"tcp_v4_rcv","start":19,"end":25,"depth":47,"type":"kernel"},
{"name":"","start":130,"end":131,"depth":47,"type":"cpp"},
{"name":"","start":131,"end":132,"depth":47,"type":"cpp"},
{"name":"","start":136,"end":137,"depth":47,"type":"cpp"},
{"name":"","start":138,"end":139,"depth":47,"type":"cpp"},
{"name":"tcp_v4_d..","start":19,"end":25,"depth":48,"type":"kernel"},
{"name":"","start":130,"end":131,"depth":48,"type":"cpp"},
{"name":"","start":131,"end":132,"depth":48,"type":"cpp"},
{"name":"","start":136,"end":137,"depth":48,"type":"cpp"},
{"name":"","start":138,"end":139,"depth":48,"type":"cpp"},
{"name":"tcp_rcv_..","start":19,"end":25,"depth":49,"type":"kernel"},
{"name":"","start":130,"end":131,"depth":49,"type":"cpp"},
{"name":"","start":131,"end":132,"depth":49,"type":"cpp"},
{"name":"","start":136,"end":137,"depth":49,"type":"cpp"},
{"name":"","start":138,"end":139,"depth":49,"type":"cpp"},
{"name":"","start":20,"end":21,"depth":50,"type":"kernel"},
{"name":"","start":21,"end":22,"depth":50,"type":"kernel"},
{"name":"t..","start":22,"end":24,"depth":50,"type":"kernel"},
{"name":"","start":24,"end":25,"depth":50,"type":"kernel"},
{"name":"","start":130,"end":131,"depth":50,"type":"cpp"},
{"name":"","start":131,"end":132,"depth":50,"type":"cpp"},
{"name":"","start":136,"end":137,"depth":50,"type":"cpp"},
{"name":"","start":138,"end":139,"depth":50,"type":"cpp"},
{"name":"","start":20,"end":21,"depth":51,"type":"kernel"},
{"name":"t..","start":22,"end":24,"depth":51,"type":"kernel"},
{"name":"","start":130,"end":131,"depth":51,"type":"cpp"},
{"name":"","start":131,"end":132,"depth":51,"type":"cpp"},
{"name":"","start":136,"end":137,"depth":51,"type":"cpp"},
{"name":"","start":138,"end":139,"depth":51,"type":"cpp"},
{"name":"","start":20,"end":21,"depth":52,"type":"kernel"},
{"name":"s..","start":22,"end":24,"depth":52,"type":"kernel"},
{"name":"","start":130,"end":131,"depth":52,"type":"cpp"},
{"name":"","start":131,"end":132,"depth":52,"type":"cpp"},
{"name":"","start":136,"end":137,"depth":52,"type":"cpp"},
{"name":"","start":138,"end":139,"depth":52,"type":"cpp"},
{"name":"_..","start":22,"end":24,"depth":53,"type":"kernel"},
{"name":"","start":130,"end":131,"depth":53,"type":"cpp"},
{"name":"","start":136,"end":137,"depth":53,"type":"cpp"},
{"name":"","start":138,"end":139,"depth":53,"type":"cpp"},
{"name":"_..","start":22,"end":24,"depth":54,"type":"kernel"},
{"name":"","start":130,"end":131,"depth":54,"type":"cpp"},
{"name":"","start":136,"end":137,"depth":54,"type":"cpp"},
{"name":"","start":138,"end":139,"depth":54,"type":"cpp"},
{"name":"_..","start":22,"end":24,"depth":55,"type":"kernel"},
{"name":"","start":130,"end":131,"depth":55,"type":"cpp"},
{"name":"","start":136,"end":137,"depth":55,"type":"cpp"},
{"name":"","start":138,"end":139,"depth":55,"type":"cpp"},
{"name":"","start":136,"end":137,"depth":56,"type":"cpp"},
{"name":"","start":138,"end":139,"depth":56,"type":"cpp"},
{"name":"","start":138,"end":139,"depth":57,"type":"cpp"},
{"name":"","start":138,"end":139,"depth":58,"type":"cpp"}
]},
"encoding": {
  "y": {"field": "depth", "type": "ordinal", "axis": null,
        "scale": {"domain": [58,57,56,55,54,53,52,51,50,49,48,47,46,45,44,43,42,41,40,39,38,37,36,35,34,33,32,31,30,29,28,27,26,25,24,23,22,21,20,19,18,17,16,15,14,13,12,11,10,9,8,7,6,5,4,3,2,1,0],
                  "paddingInner": 0.0625, "paddingOuter": 0}},
  "x": {"field": "start", "type": "quantitative", "axis": null,
        "scale": {"domain": [0, 152], "nice": false, "zero": false}}
},
"layer": [
  {"mark": {"type": "rect", "x2Offset": -0.5},
   "encoding": {
     "x2": {"field": "end"},
     "color": {"field": "type", "type": "nominal", "legend": null,
               "scale": {"domain": ["kernel","java","inlined","native","cpp","interpreted","c1"],
                         "range": ["#f28d04","#5feb5f","#5ddcdc","#f37575","#d8d842","#b9e6b9","#d5ea86"]}}
   }},
  {"transform": [{"filter": "datum.name != ''"}],
   "mark": {"type": "text", "align": "left", "baseline": "alphabetic", "dx": 3, "dy": 4.5,
            "font": "Liberation Sans", "fontSize": 12, "color": "#000000"},
   "encoding": {"text": {"field": "name"}}}
]
}
